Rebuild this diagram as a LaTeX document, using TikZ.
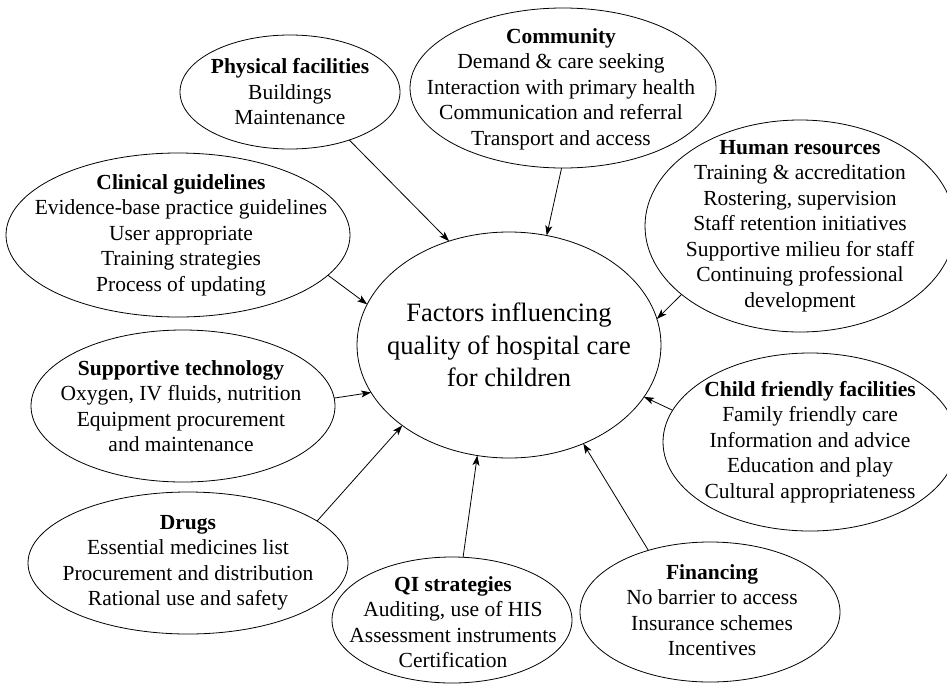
\documentclass[tikz,border=0pt]{standalone}
\usepackage{fontspec}
\setmainfont{Liberation Serif}
\usetikzlibrary{arrows.meta,shapes.geometric}
\begin{document}
\begin{tikzpicture}[x=1pt,y=-1pt,
  bubble/.style={draw, ellipse, line width=0.8pt, inner sep=0pt, outer sep=0pt},
  txt/.style={align=center, inner sep=0pt, font=\fontsize{21.5}{25.5}\selectfont},
  bigtxt/.style={align=center, inner sep=0pt, font=\fontsize{26.5}{32.5}\selectfont},
  feed/.style={-{Stealth[length=10pt,width=7pt,inset=2.5pt]}, line width=0.8pt}
]
\useasboundingbox (0,0) rectangle (947,686);

% central ellipse
\node[bubble, minimum width=304pt, minimum height=226pt] (core) at (509,345) {};
\node[bigtxt] (core-t) at (core.center) {Factors influencing\\quality of hospital care\\for children};

% surrounding factor ellipses
\node[bubble, minimum width=220pt, minimum height=114pt] (phys) at (290,92) {};
\node[txt] (phys-t) at (phys.center) {\textbf{Physical facilities}\\Buildings\\Maintenance};

\node[bubble, minimum width=306pt, minimum height=160pt] (comm) at (563,88) {};
\node[txt] (comm-t) at (561,89) {\textbf{Community}\\Demand \& care seeking\\Interaction with primary health\\Communication and referral\\Transport and access};

\node[bubble, minimum width=310pt, minimum height=212pt] (hr) at (800,226) {};
\node[txt] (hr-t) at (hr.center) {\textbf{Human resources}\\Training \& accreditation\\Rostering, supervision\\Staff retention initiatives\\Supportive milieu for staff\\Continuing professional\\development};

\node[bubble, minimum width=344pt, minimum height=164pt] (clin) at (178,235) {};
\node[txt] (clin-t) at (181,235) {\textbf{Clinical guidelines}\\Evidence-base practice guidelines\\User appropriate\\Training strategies\\Process of updating};

\node[bubble, minimum width=304pt, minimum height=152pt] (tech) at (183,406) {};
\node[txt] (tech-t) at (181,406) {\textbf{Supportive technology}\\Oxygen, IV fluids, nutrition\\Equipment procurement\\and maintenance};

\node[bubble, minimum width=294pt, minimum height=178pt] (child) at (810,442) {};
\node[txt] (child-t) at (child.center) {\textbf{Child friendly facilities}\\Family friendly care\\Information and advice\\Education and play\\Cultural appropriateness};

\node[bubble, minimum width=320pt, minimum height=142pt] (drug) at (188,563) {};
\node[txt] (drug-t) at (drug.center) {\textbf{Drugs}\\Essential medicines list\\Procurement and distribution\\Rational use and safety};

\node[bubble, minimum width=240pt, minimum height=126pt] (qi) at (452,620) {};
\node[txt] (qi-t) at (453,622) {\textbf{QI strategies}\\Auditing, use of HIS\\Assessment instruments\\Certification};

\node[bubble, minimum width=260pt, minimum height=140pt] (fin) at (710,612) {};
\node[txt] (fin-t) at (712,610) {\textbf{Financing}\\No barrier to access\\Insurance schemes\\Incentives};

% influences pointing at the central ellipse
\draw[feed] (phys.-39)   -- (core.120);
\draw[feed] (comm.-91)   -- (core.71);
\draw[feed] (clin.-15)   -- (core.164);
\draw[feed] (hr.-150)    -- (core.10);
\draw[feed] (tech.3)     -- (core.199);
\draw[feed] (child.167)  -- (core.-21);
\draw[feed] (drug.18)    -- (core.-143);
\draw[feed] (qi.80)      -- (core.-106);
\draw[feed] (fin.135)    -- (core.-53);
\end{tikzpicture}
\end{document}
